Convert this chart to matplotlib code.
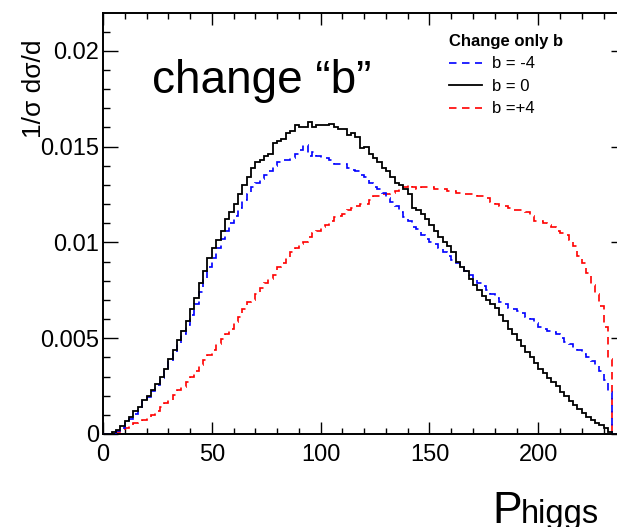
import numpy as np
import matplotlib
matplotlib.use('Agg')
import matplotlib.pyplot as plt
from matplotlib.ticker import MultipleLocator, FuncFormatter
from matplotlib.lines import Line2D

plt.rcParams['font.family'] = ['Liberation Sans', 'DejaVu Sans']

bin_width = 2.0

# values in units of 1e-3, bins start at 0, 2, 4, ... 234
b_zero = [
    0, 0.02, 0.1, 0.2, 0.4, 0.7, 0.9, 1.2, 1.4, 1.75,
    2.0, 2.3, 2.6, 3.0, 3.4, 3.9, 4.4, 4.9, 5.4, 5.9,
    6.5, 7.1, 7.9, 8.5, 9.2, 9.7, 10.1, 10.6, 11.2, 11.6,
    12.0, 12.5, 13.0, 13.4, 13.9, 14.2, 14.3, 14.5, 14.6, 15.2,
    15.3, 15.4, 15.7, 15.8, 16.1, 16.0, 16.0, 16.3, 16.0, 16.1,
    16.1, 16.1, 16.2, 16.0, 15.9, 15.9, 15.6, 15.7, 15.5, 14.9,
    15.0, 14.6, 14.4, 14.2, 13.9, 13.7, 13.4, 13.1, 13.0, 12.8,
    12.5, 11.8, 11.7, 11.5, 11.2, 10.9, 10.6, 10.3, 10.0, 9.8,
    9.5, 9.0, 8.7, 8.5, 8.1, 7.8, 7.5, 7.2, 7.0, 6.8,
    6.6, 6.2, 5.9, 5.5, 5.2, 4.9, 4.6, 4.3, 4.0, 3.7,
    3.4, 3.2, 2.9, 2.7, 2.5, 2.2, 2.0, 1.7, 1.5, 1.3,
    1.1, 0.9, 0.75, 0.6, 0.45, 0.3, 0.12, 0,
]

b_minus4 = [
    0, 0, 0.05, 0.15, 0.3, 0.55, 0.8, 1.05, 1.35, 1.7,
    1.95, 2.25, 2.55, 2.9, 3.3, 3.75, 4.2, 4.7, 5.2, 5.7,
    6.2, 6.8, 7.4, 8.1, 8.7, 9.2, 9.7, 10.2, 10.6, 11.0,
    11.4, 11.8, 12.2, 12.5, 12.9, 13.1, 13.3, 13.5, 13.7, 14.0,
    14.2, 14.3, 14.3, 14.4, 14.6, 14.8, 15.1, 14.5, 14.7, 14.5,
    14.4, 14.4, 14.3, 14.1, 14.1, 14.1, 13.9, 13.8, 13.7, 13.5,
    13.4, 13.1, 12.9, 12.8, 12.6, 12.3, 12.1, 11.9, 11.6, 11.3,
    11.1, 10.8, 10.7, 10.4, 10.2, 10.0, 9.9, 9.7, 9.5, 9.3,
    9.1, 8.9, 8.7, 8.5, 8.3, 8.1, 7.9, 7.7, 7.5, 7.3,
    7.1, 6.9, 6.8, 6.6, 6.5, 6.4, 6.3, 6.1, 6.0, 5.8,
    5.6, 5.5, 5.4, 5.3, 5.2, 5.0, 4.8, 4.7, 4.5, 4.4,
    4.2, 4.0, 3.8, 3.6, 3.3, 2.8, 2.2, 0,
]

b_plus4 = [
    0, 0, 0.05, 0.1, 0.2, 0.3, 0.45, 0.55, 0.65, 0.75,
    0.85, 1.0, 1.2, 1.4, 1.6, 1.8, 2.05, 2.3, 2.45, 2.7,
    3.0, 3.3, 3.6, 3.85, 4.1, 4.4, 4.7, 4.95, 5.2, 5.5,
    5.85, 6.1, 6.5, 6.9, 7.0, 7.3, 7.6, 7.9, 8.1, 8.3,
    8.7, 8.9, 9.2, 9.5, 9.7, 9.9, 10.0, 10.3, 10.5, 10.6,
    10.8, 10.9, 11.1, 11.3, 11.4, 11.5, 11.7, 11.8, 11.9, 12.0,
    12.0, 12.2, 12.4, 12.4, 12.5, 12.5, 12.6, 12.7, 12.8, 12.9,
    13.0, 12.9, 12.8, 12.9, 12.9, 12.9, 12.8, 12.8, 12.8, 12.7,
    12.7, 12.6, 12.6, 12.5, 12.5, 12.5, 12.4, 12.4, 12.3, 12.1,
    12.0, 11.9, 11.9, 11.8, 11.7, 11.7, 11.7, 11.6, 11.4, 11.1,
    11.1, 11.0, 10.9, 10.8, 10.6, 10.5, 10.4, 10.1, 9.8, 9.3,
    8.9, 8.4, 7.8, 7.3, 6.7, 5.6, 3.9, 0,
]

labels = ["b = -4", "b = 0", "b =+4"]
legend_title = "Change only b"
x_ticks = [0, 50, 100, 150, 200]
y_ticks = [0, 0.005, 0.01, 0.015, 0.02]

edges = np.arange(len(b_zero) + 1) * bin_width
scale = 1e-3

W, H = 617, 527
fig = plt.figure(figsize=(W / 100, H / 100), dpi=100)
ax = fig.add_axes([103 / W, 93 / H, 523 / W, 421 / H])
ax.set_xlim(0, 240.3)
ax.set_ylim(0, 0.02197)

dash = (0, (4.5, 3.3))
ax.stairs(np.array(b_plus4) * scale, edges, baseline=0, color='#ff0000',
          linewidth=1.2, linestyle=dash, zorder=2)
ax.stairs(np.array(b_minus4) * scale, edges, baseline=0, color='#0000ff',
          linewidth=1.2, linestyle=dash, zorder=3)
ax.stairs(np.array(b_zero) * scale, edges, baseline=0, color='black',
          linewidth=1.3, zorder=4)

ax.set_xticks(x_ticks)
ax.set_yticks(y_ticks)
ax.xaxis.set_minor_locator(MultipleLocator(10))
ax.yaxis.set_minor_locator(MultipleLocator(0.001))
ax.yaxis.set_major_formatter(FuncFormatter(lambda v, p: f"{round(v, 6):g}"))
ax.xaxis.set_major_formatter(FuncFormatter(lambda v, p: f"{round(v, 6):g}"))

ax.tick_params(which='both', direction='in', top=True, right=True,
               width=1.0, labelsize=17, colors='black')
ax.tick_params(axis='x', which='major', length=8.6, pad=7)
ax.tick_params(axis='x', which='minor', length=4.3)
ax.tick_params(axis='y', which='major', length=10.8, pad=3)
ax.tick_params(axis='y', which='minor', length=5.0)
for s in ax.spines.values():
    s.set_linewidth(1.4)

handles = [
    Line2D([], [], color='#0000ff', linewidth=1.2, linestyle=dash),
    Line2D([], [], color='black', linewidth=1.3),
    Line2D([], [], color='#ff0000', linewidth=1.2, linestyle=dash),
]
leg = ax.legend(handles, labels, title=legend_title,
                title_fontproperties={'weight': 'bold', 'size': 12},
                fontsize=12, frameon=False, loc='upper left',
                bbox_to_anchor=(449 / W, 1 - 34 / H),
                bbox_transform=fig.transFigure, borderaxespad=0,
                borderpad=0, handlelength=1.95, handletextpad=0.66,
                labelspacing=0.45)
leg._legend_box.align = "left"

fig.text(152 / W, 1 - 93 / H, 'change \u201cb\u201d', fontsize=33,
         ha='left', va='baseline')
fig.text(34 / W, 1 - 40 / H, '1/\u03c3 d\u03c3/d', rotation=90, fontsize=19,
         ha='center', va='top')
fig.text(492 / W, 1 - 523 / H, 'P', fontsize=32, ha='left', va='baseline')
fig.text(521 / W, 1 - 523 / H, 'higgs', fontsize=23.5, ha='left', va='baseline')

fig.savefig('out.png', dpi=100)
